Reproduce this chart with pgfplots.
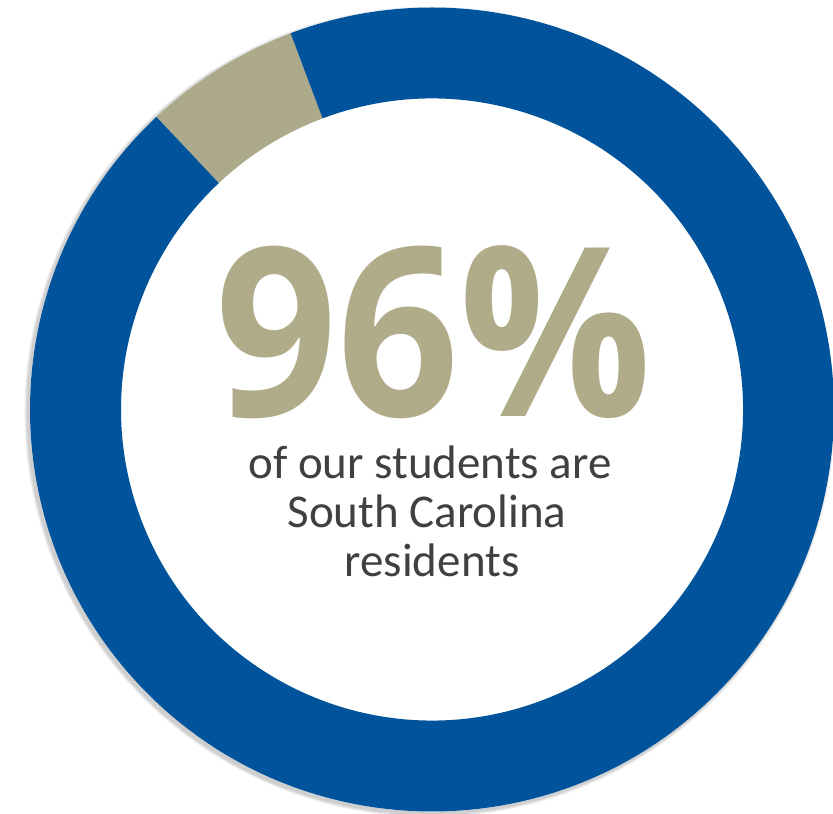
\documentclass[border=0pt]{standalone}
\usepackage{pgfplots}
\pgfplotsset{compat=1.18}
\usepackage{pgfplotstable}
\usepackage{fontspec}
\setmainfont{Carlito}[Numbers=Lining]
\newfontfamily\bigfont{Open Sans}
\definecolor{sblue}{RGB}{1,83,155}
\definecolor{stan}{RGB}{173,170,140}
\definecolor{ttan}{RGB}{176,171,136}
\definecolor{tgray}{RGB}{64,64,64}

\pgfplotstableread{
label value
Others 6.3
SC 93.7
}\datatable

\begin{document}
\begin{tikzpicture}
\pgfplotstablegetelem{0}{value}\of\datatable \let\va\pgfplotsretval
\pgfplotstablegetelem{1}{value}\of\datatable \let\vb\pgfplotsretval
\pgfmathsetmacro\aStart{110.6}
\pgfmathsetmacro\aMid{\aStart+3.6*\va}
\pgfmathsetmacro\aEnd{\aMid+3.6*\vb}
\begin{axis}[
  scale only axis, width=416.5pt, height=406.5pt,
  xmin=0, xmax=833, ymin=0, ymax=813,
  hide axis, clip=true,
]
% soft shadow
\fill[black, opacity=0.05] ([shift={(-1.2pt,-1.2pt)}]axis cs:432,403.5) circle[radius=201.4pt];
\fill[black, opacity=0.05] ([shift={(-1.2pt,-1.2pt)}]axis cs:432,403.5) circle[radius=201.8pt];
\fill[black, opacity=0.05] ([shift={(-1.2pt,-1.2pt)}]axis cs:432,403.5) circle[radius=202.2pt];
\fill[black, opacity=0.05] ([shift={(-1.2pt,-1.2pt)}]axis cs:432,403.5) circle[radius=202.6pt];
\fill[white] (axis cs:432,403.5) circle[radius=201pt];
% gray segment
\fill[stan] ([shift={(\aStart:201pt)}]axis cs:432,403.5) arc[start angle=\aStart, end angle=\aMid, radius=201pt]
  -- ([shift={(\aMid:155.5pt)}]axis cs:432,403.5) arc[start angle=\aMid, end angle=\aStart, radius=155.5pt] -- cycle;
% blue segment
\fill[sblue] ([shift={(\aMid:201pt)}]axis cs:432,403.5) arc[start angle=\aMid, end angle=\aEnd, radius=201pt]
  -- ([shift={(\aEnd:155.5pt)}]axis cs:432,403.5) arc[start angle=\aEnd, end angle=\aMid, radius=155.5pt] -- cycle;
\node[anchor=base, text=ttan, inner sep=0pt, text depth=0pt, font=\bigfont\fontsize{118}{120}\selectfont\bfseries, xscale=0.905] at (axis cs:434,396) {96\%};
\node[anchor=base, text=tgray, inner sep=0pt, font=\fontsize{23.5}{24}\selectfont] at (axis cs:430,334) {of our students are};
\node[anchor=base, text=tgray, inner sep=0pt, font=\fontsize{23.5}{24}\selectfont] at (axis cs:427,285) {South Carolina};
\node[anchor=base, text=tgray, inner sep=0pt, font=\fontsize{23.5}{24}\selectfont] at (axis cs:432,236) {residents};
\end{axis}
\pgfresetboundingbox
\useasboundingbox (current axis.south west) rectangle (current axis.north east);
\end{tikzpicture}
\end{document}
